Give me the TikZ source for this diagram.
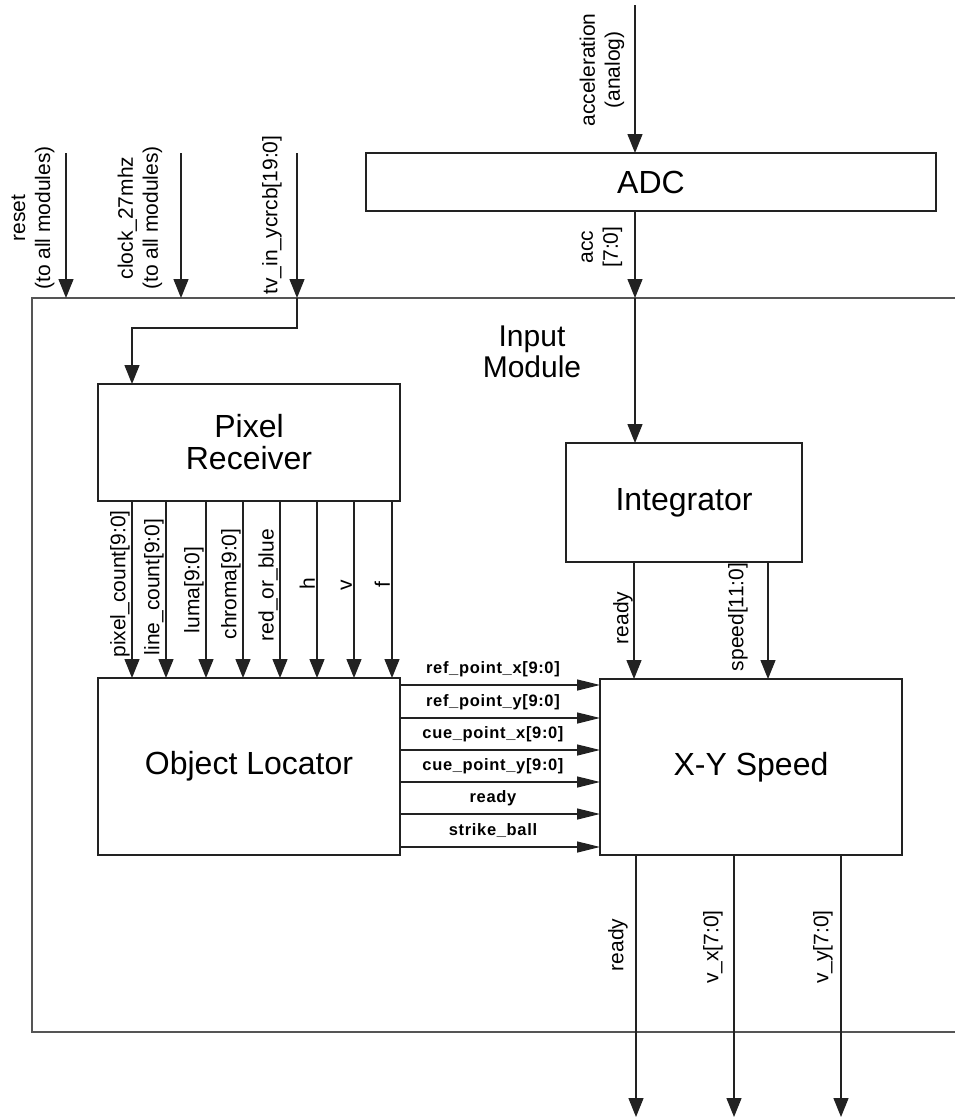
\documentclass[tikz,border=0pt]{standalone}
\usepackage{fontspec}
\setmainfont{Liberation Sans}
\newfontfamily\sigfont[LetterSpace=4]{Liberation Sans}
\usetikzlibrary{arrows.meta}
\definecolor{ink}{HTML}{222222}
\definecolor{frame}{HTML}{555555}
\tikzset{
  blk/.style={draw=ink, line width=1.5pt, inner sep=0pt, outer sep=0pt, align=center,
    font=\fontsize{32}{32}\selectfont},
  vsig/.style={draw=ink, line width=1.3pt, -{Triangle[length=19pt,width=15pt]}},
  hsig/.style={draw=ink, line width=1.3pt, -{Triangle[length=23pt,width=11pt]}},
  wire/.style={draw=ink, line width=1.3pt},
  lab/.style={rotate=90, align=center, inner sep=0pt, font=\fontsize{21}{25}\selectfont},
  hlab/.style={inner sep=0pt, font=\sigfont\bfseries\fontsize{16.5}{18}\selectfont},
}
\begin{document}
\begin{tikzpicture}[x=1pt,y=-1pt]
\useasboundingbox[fill=white] (0,0) rectangle (954,1119);

% outer module frame (open to the right)
\draw[frame, line width=1.6pt] (960,298) -- (32,298) -- (32,1032) -- (960,1032);
\node[align=center, inner sep=0pt, font=\fontsize{30}{31}\selectfont] (imlab) at (532,352) {Input\\Module};

% blocks
\node[blk, minimum width=570, minimum height=58] (adc) at (651,182) {ADC};
\node[blk, minimum width=302, minimum height=117] (pr) at (249,442.5) {Pixel\\Receiver};
\node[blk, minimum width=302, minimum height=177] (ol) at (249,766.5) {Object Locator};
\node[blk, minimum width=236, minimum height=119] (integ) at (684,502.5) {Integrator};
\node[blk, minimum width=302, minimum height=176] (xy) at (751,767) {X-Y Speed};

% top inputs
\coordinate (rstT) at (66,153);   \coordinate (rstB) at (66,298);
\coordinate (clkT) at (181,153);  \coordinate (clkB) at (181,298);
\coordinate (tvT) at (297,153);   \coordinate (tvB) at (297,298);
\coordinate (accT) at (635,5);
\coordinate (accB) at (635,298);

\draw[vsig] (rstT) -- (rstB);
\draw[vsig] (clkT) -- (clkB);
\draw[vsig] (tvT) -- (tvB);
\draw[vsig] (tvB) -- (297,328) -| (pr.north -| 132,0);
\draw[vsig] (accT) -- (adc.north -| accT);
\draw[vsig] (adc.south -| accB) -- (accB);
\draw[vsig] (accB) -- (integ.north -| accB);

\node[lab] (rstlab) at (33,218) {reset\\(to all modules)};
\node[lab] (clklab) at (140,218) {clock\_27mhz\\(to all modules)};
\node[lab] (tvlab) at (272,215) {tv\_in\_ycrcb[19:0]};
\node[lab] (acclab) at (602,70) {acceleration\\(analog)};
\node[lab] (acc2lab) at (602,247) {acc\\{[7:0]}};

% pixel receiver -> object locator
\foreach \xx/\tx/\ly in {132/{pixel\_count[9:0]}/584, 166/{line\_count[9:0]}/587,
  206/{luma[9:0]}/590, 243/{chroma[9:0]}/584, 280/{red\_or\_blue}/585,
  317/{h}/584, 354/{v}/585, 392/{f}/585}{
  \draw[vsig] (pr.south -| \xx,0) -- (ol.north -| \xx,0);
  \node[lab, anchor=south] at (\xx-2,\ly) {\tx};
}

% object locator -> xy speed
\foreach \yy/\tx in {685/{ref\_point\_x[9:0]}, 718/{ref\_point\_y[9:0]},
  750/{cue\_point\_x[9:0]}, 782/{cue\_point\_y[9:0]}, 814/{ready}, 847/{strike\_ball}}{
  \draw[hsig] (ol.east |- 0,\yy) -- (xy.west |- 0,\yy);
  \node[hlab] at (493,\yy-16) {\tx};
}

% integrator -> xy speed
\draw[vsig] (integ.south -| 634,0) -- (xy.north -| 634,0);
\draw[vsig] (integ.south -| 768,0) -- (xy.north -| 768,0);
\node[lab] (rdy1) at (623,618) {ready};
\node[lab] (spd) at (738,617) {speed[11:0]};

% outputs
\coordinate (o1) at (636,1117);
\coordinate (o2) at (734,1117);
\coordinate (o3) at (841,1117);
\draw[vsig] (xy.south -| o1) -- (o1);
\draw[vsig] (xy.south -| o2) -- (o2);
\draw[vsig] (xy.south -| o3) -- (o3);
\node[lab] (rdy2) at (618,945) {ready};
\node[lab] (vx) at (713,947) {v\_x[7:0]};
\node[lab] (vy) at (823,947) {v\_y[7:0]};
\end{tikzpicture}
\end{document}
